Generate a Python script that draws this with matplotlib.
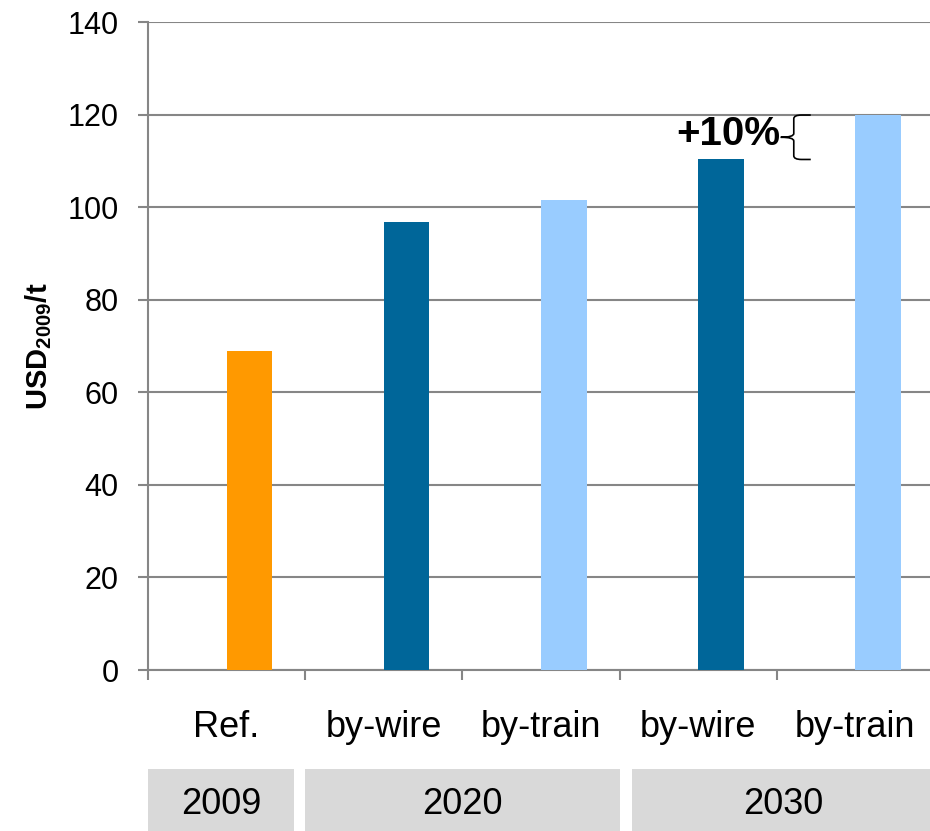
import matplotlib.pyplot as plt
from matplotlib.path import Path
from matplotlib.patches import PathPatch, Rectangle
import matplotlib.transforms as mtrans

plt.rcParams['font.family'] = ['Liberation Sans', 'DejaVu Sans']
plt.rcParams['mathtext.fontset'] = 'custom'
plt.rcParams['mathtext.rm'] = 'Liberation Sans'
plt.rcParams['mathtext.bf'] = 'Liberation Sans:bold'

# cost per tonne, five cases
cases = ['Ref.', 'by-wire', 'by-train', 'by-wire', 'by-train']
costs = [68.9, 96.8, 101.5, 110.3, 119.9]
colors = ['#FF9900', '#006699', '#99CCFF', '#006699', '#99CCFF']
years = ['2009', '2020', '2030']
year_spans = [(0, 0), (1, 2), (3, 4)]
change_label = '+10%'

grey = '#868686'
shift = 0.145   # bars sit a little right of the category centre

fig = plt.figure(figsize=(9.3, 8.31), dpi=100)
ax = fig.add_axes([148/930, 161/831, 786/930, 648/831])

x = list(range(len(cases)))
ax.bar([i + shift for i in x], costs, width=0.29, color=colors, zorder=3)

ax.set_xlim(-0.5, len(cases) - 0.5)
ax.set_ylim(0, 140)
ax.set_yticks(range(0, 141, 20))
ax.yaxis.grid(True, color=grey, linewidth=1.5, zorder=0)
ax.tick_params(axis='y', labelsize=22, length=7, width=1.5, color=grey, pad=14)

ax.set_xticks(x)
ax.set_xticklabels(cases)
ax.set_xticks([i - 0.5 for i in range(len(cases))], minor=True)
ax.tick_params(axis='x', which='major', length=0, labelsize=26, pad=29)
ax.tick_params(axis='x', which='minor', length=7, width=1.5, color=grey)

for s in ['top', 'right']:
    ax.spines[s].set_visible(False)
for s in ['left', 'bottom']:
    ax.spines[s].set_color(grey)
    ax.spines[s].set_linewidth(1.5)

ax.set_ylabel(r'$\mathbf{USD_{2009}/t}$', fontsize=21, labelpad=10)

# year boxes under the categories
trans = mtrans.blended_transform_factory(ax.transData, ax.transAxes)
for yr, (a, b) in zip(years, year_spans):
    x0 = a - 0.5 + (0.08 if a > 1 else 0)
    x1 = b + 0.5 - (0.07 if b == 0 else 0)
    ax.add_patch(Rectangle((x0, -0.2485), x1 - x0, 0.0957, transform=trans,
                           facecolor='#D9D9D9', edgecolor='none', clip_on=False))
    ax.text((x0 + x1) / 2, -0.208, yr, transform=trans, ha='center', va='center',
            fontsize=26)

# brace between the two 2030 bars
lo, hi = costs[3], costs[4]
mid = (lo + hi) / 2
xt, xs, xp = 3.716, 3.608, 3.525
r = 0.8
verts = [(xt, hi), (xs + 0.05, hi), (xs, hi), (xs, hi - r),
         (xs, mid + r), (xs, mid), (xp, mid),
         (xs, mid), (xs, mid - r),
         (xs, lo + r), (xs, lo), (xs + 0.05, lo), (xt, lo)]
codes = [Path.MOVETO, Path.LINETO, Path.CURVE3, Path.CURVE3,
         Path.LINETO, Path.CURVE3, Path.CURVE3,
         Path.CURVE3, Path.CURVE3,
         Path.LINETO, Path.CURVE3, Path.CURVE3, Path.LINETO]
ax.add_patch(PathPatch(Path(verts, codes), facecolor='none', edgecolor='black',
                       linewidth=1.2, zorder=4))
ax.text(3.52, mid + 0.6, change_label, ha='right', va='center', fontsize=29,
        fontweight='bold', zorder=5)

fig.savefig('out.png', dpi=100)
